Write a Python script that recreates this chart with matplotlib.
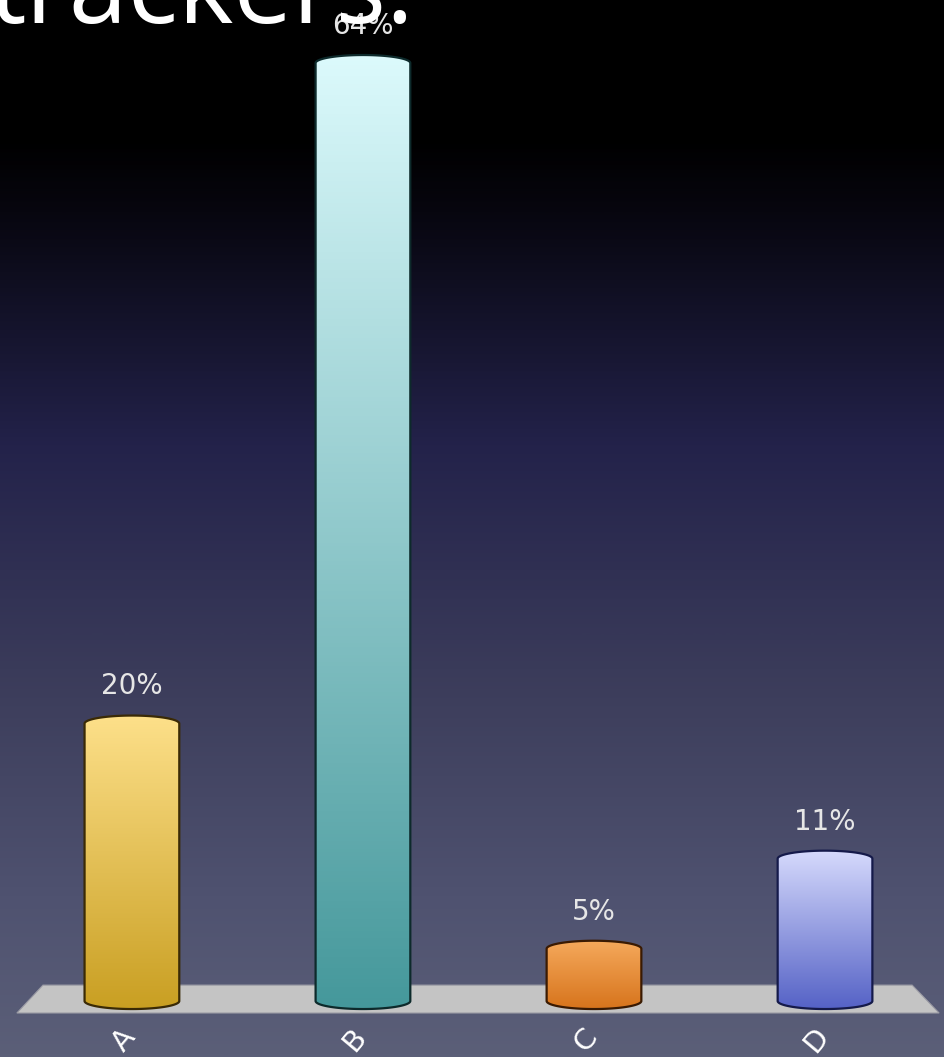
import numpy as np
import matplotlib
matplotlib.use("Agg")
import matplotlib.pyplot as plt
from matplotlib.patches import Polygon
from matplotlib.colors import LinearSegmentedColormap

# ---- data ----
categories = ["A", "B", "C", "D"]
values = [20, 64, 5, 11]
value_labels = ["20%", "64%", "5%", "11%"]
title = "trackers:"

# ---- style ----
top_colors = ["#fde08a", "#dcfafc", "#f5a95c", "#d6dafc"]
bottom_colors = ["#c99f22", "#45989b", "#d7741c", "#5562c6"]
edge_colors = ["#3a2a05", "#0d2a2b", "#3a1a02", "#151a4a"]

W, H, DPI = 9.44, 10.57, 100
fig = plt.figure(figsize=(W, H), dpi=DPI)

# background gradient
bg = fig.add_axes([0, 0, 1, 1], zorder=-5)
bg_cmap = LinearSegmentedColormap.from_list(
    "bg", [(0.0, "#000000"), (0.13, "#000000"), (0.2, "#07060f"),
           (0.42, "#23224a"), (0.66, "#3d3e5c"), (0.85, "#4f5270"), (1.0, "#5b5f78")])
bg.imshow(np.linspace(0, 1, 512).reshape(-1, 1), aspect="auto", cmap=bg_cmap,
          extent=[0, 1, 1, 0])
bg.set_axis_off()

ax = fig.add_axes([0, 0, 1, 1])
ax.set_axis_off()
ax.patch.set_alpha(0)

bar_w = 0.41
ell_h = 1.07
base = 1.52

# floor plane
plane = Polygon([(-0.498, 0.72), (-0.385, 2.58), (3.377, 2.58), (3.494, 0.72)],
                closed=True, facecolor="#c4c4c4", edgecolor="#9a9aa4", lw=0.8, zorder=1)
ax.add_patch(plane)

t = np.linspace(0, np.pi, 60)
for i, (cat, v) in enumerate(zip(categories, values)):
    x0 = i
    bottom_arc = [(x0 - bar_w / 2 * np.cos(a), base - ell_h / 2 * np.sin(a)) for a in t]
    top_arc = [(x0 + bar_w / 2 * np.cos(a), v + ell_h / 2 * np.sin(a)) for a in t]
    pts = [(x0 - bar_w / 2, v)] + bottom_arc + top_arc
    shape = Polygon(pts, closed=True, facecolor="none", edgecolor=edge_colors[i],
                    lw=1.6, zorder=4)
    ax.add_patch(shape)
    cmap = LinearSegmentedColormap.from_list("c%d" % i, [bottom_colors[i], top_colors[i]])
    im = ax.imshow(np.linspace(0, 1, 256).reshape(-1, 1), origin="lower", aspect="auto",
                   cmap=cmap, extent=[x0 - bar_w / 2, x0 + bar_w / 2,
                                      base - ell_h / 2, v + ell_h / 2], zorder=3)
    clip = Polygon(pts, closed=True, transform=ax.transData, facecolor="none")
    im.set_clip_path(clip)
    ax.annotate(value_labels[i], (x0, v), xytext=(0, 21), textcoords="offset points",
                ha="center", va="baseline", fontsize=20, color="#e6e6e6",
                family="DejaVu Sans", zorder=6)
    ax.annotate(cat, (x0, 0), xytext=(-6, -12), textcoords="offset points",
                ha="center", va="center", fontsize=21, color="white", rotation=50,
                family="DejaVu Sans", zorder=6)

ax.set_xlim(-0.571, 3.515)
ax.set_ylim(-2.21, 68.2)

fig.text(-12 / 944, 1 - 23 / 1057, title, fontsize=76, color="white",
         family="Open Sans", ha="left", va="baseline", zorder=10)

fig.savefig("out.png", dpi=DPI)
